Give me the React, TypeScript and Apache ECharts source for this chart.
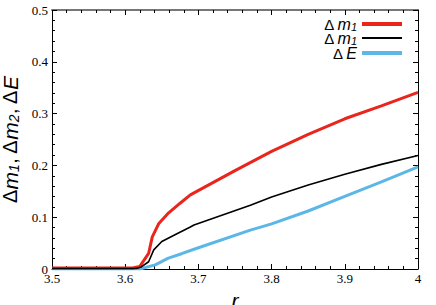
import React, { useEffect, useRef } from "react";
import * as echarts from "echarts";

const redData: [number, number][] = [
  [3.5, 0.002], [3.61, 0.002], [3.62, 0.005], [3.632, 0.03], [3.637, 0.062],
  [3.646, 0.088], [3.659, 0.108], [3.675, 0.127], [3.689, 0.143], [3.75, 0.19],
  [3.8, 0.227], [3.85, 0.26], [3.9, 0.29], [3.95, 0.315], [4.0, 0.341],
];
const blackData: [number, number][] = [
  [3.5, 0.001], [3.615, 0.001], [3.622, 0.004], [3.632, 0.014], [3.639, 0.037],
  [3.65, 0.053], [3.668, 0.066], [3.689, 0.081], [3.694, 0.085], [3.771, 0.123],
  [3.8, 0.139], [3.85, 0.162], [3.9, 0.183], [3.95, 0.202], [4.0, 0.219],
];
const blueData: [number, number][] = [
  [3.5, 0], [3.62, 0], [3.641, 0.008], [3.659, 0.021], [3.678, 0.03],
  [3.698, 0.04], [3.771, 0.075], [3.8, 0.087], [3.85, 0.112], [3.9, 0.14],
  [3.95, 0.168], [4.0, 0.197],
];
const seriesNames = ["m1a", "m1b", "E"];
const legendLabels: Record<string, string> = {
  m1a: "{d|Δ }{i|m}{s|1}",
  m1b: "{d|Δ }{i|m}{s|1}",
  E: "{d|Δ }{i|E}",
};
const xTicks = { min: 3.5, max: 4, interval: 0.1 };
const yTicks = { min: 0, max: 0.5, interval: 0.1 };

const RED = "#e8261c";
const BLACK = "#000000";
const BLUE = "#5cb7e6";
const serif = "Times New Roman";
const sans = "Liberation Sans";

export default function App() {
  const ref = useRef<HTMLDivElement>(null);
  useEffect(() => {
    if (!ref.current) return;
    const chart = echarts.init(ref.current, null, { renderer: "svg" });
    const legendRich = {
      d: { fontFamily: sans, fontSize: 15, color: "#000", height: 14 },
      i: { fontFamily: sans, fontSize: 16, fontStyle: "italic", color: "#000", height: 14 },
      s: { fontFamily: sans, fontSize: 11, fontStyle: "italic", color: "#000", verticalAlign: "bottom", padding: [6, 0, 0, 0], height: 14 },
    };
    const mkLegend = (name: string, top: number, h: number) => ({
      data: [name],
      right: 34,
      top,
      padding: 0,
      align: "right",
      icon: "rect",
      itemWidth: 40,
      itemHeight: h,
      itemGap: 6,
      formatter: (n: string) => legendLabels[n],
      textStyle: { rich: legendRich },
      selectedMode: false,
    });
    const axisCommon = {
      type: "value" as const,
      axisLine: { show: true, onZero: false, lineStyle: { color: "#000", width: 1 } },
      axisTick: { show: true, inside: true, length: 5, lineStyle: { color: "#000" } },
      minorTick: { show: true, splitNumber: 5, length: 3, lineStyle: { color: "#000" } },
      splitLine: { show: false },
    };
    const tickLabelStyle = { fontFamily: serif, fontSize: 13, color: "#000", fontWeight: "normal" };
    chart.setOption({
      animation: false,
      textStyle: { fontFamily: serif },
      grid: { left: 52, right: 18, top: 10, bottom: 36, containLabel: false, outerBoundsMode: "none" },
      legend: [mkLegend("m1a", 16, 4), mkLegend("m1b", 30, 2), mkLegend("E", 45, 4)],
      xAxis: [
        {
          ...axisCommon,
          ...xTicks,
          position: "bottom",
          name: "r",
          nameLocation: "middle",
          nameGap: 12,
          nameTextStyle: { fontFamily: sans, fontSize: 21, fontStyle: "italic", color: "#000", lineHeight: 20 },
          axisLabel: { ...tickLabelStyle, margin: 3 },
        },
        {
          ...axisCommon,
          ...xTicks,
          position: "top",
          axisLine: { show: true, onZero: false, lineStyle: { color: "#777", width: 2 } },
          axisLabel: { show: false },
        },
      ],
      yAxis: [
        {
          ...axisCommon,
          ...yTicks,
          position: "left",
          name: "{d|Δ}{i|m}{s|1}{d|, Δ}{i|m}{s|2}{d|, Δ}{i|E}",
          nameLocation: "middle",
          nameGap: 29,
          nameRotate: 90,
          nameTextStyle: {
            rich: {
              d: { fontFamily: sans, fontSize: 20, color: "#000", height: 18 },
              i: { fontFamily: sans, fontSize: 21, fontStyle: "italic", color: "#000", height: 18 },
              s: { fontFamily: sans, fontSize: 14, fontStyle: "italic", color: "#000", verticalAlign: "bottom", padding: [7, 0, 0, 0], height: 18 },
            },
          },
          axisLabel: {
            ...tickLabelStyle,
            margin: 4,
            formatter: (v: number) => (v === 0 ? "0" : String(Math.round(v * 10) / 10)),
          },
        },
        {
          ...axisCommon,
          ...yTicks,
          position: "right",
          axisLabel: { show: false },
        },
      ],
      series: [
        { name: seriesNames[0], type: "line", data: redData, showSymbol: false, lineStyle: { color: RED, width: 3 }, itemStyle: { color: RED }, z: 3 },
        { name: seriesNames[1], type: "line", data: blackData, showSymbol: false, lineStyle: { color: BLACK, width: 1.6 }, itemStyle: { color: BLACK }, z: 4 },
        { name: seriesNames[2], type: "line", data: blueData, showSymbol: false, lineStyle: { color: BLUE, width: 3 }, itemStyle: { color: BLUE }, z: 2 },
      ],
    });
    return () => chart.dispose();
  }, []);
  return <div ref={ref} style={{ width: 436, height: 305, position: "absolute", left: 0, top: 0, background: "#fff" }} />;
}
